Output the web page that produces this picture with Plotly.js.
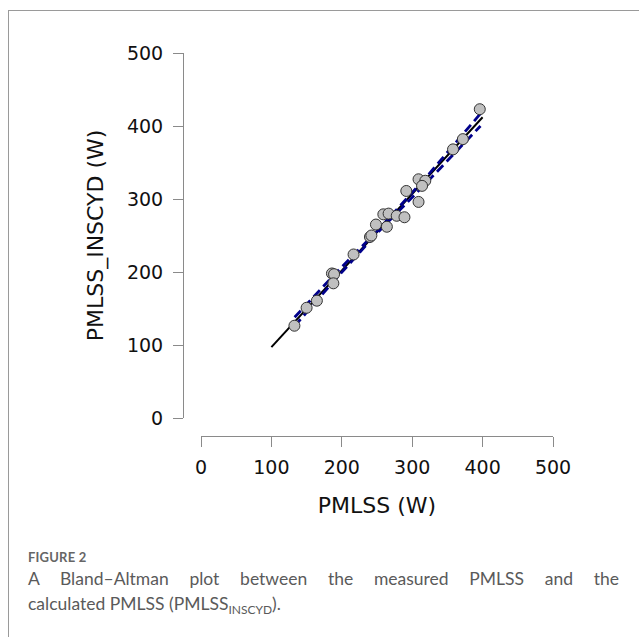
<!DOCTYPE html>
<html>
<head>
<meta charset="utf-8">
<script src="https://cdn.plot.ly/plotly-3.0.1.min.js"></script>
<style>
  html, body { margin: 0; padding: 0; background: #fff; }
  #wrap { position: relative; width: 639px; height: 637px; overflow: hidden; }
  #frame { position: absolute; left: 8px; top: 10px; width: 700px; height: 700px;
           border-left: 1px solid #9a9a9a; border-top: 1px solid #9a9a9a; }
  #chart { position: absolute; left: 0; top: 0; width: 639px; height: 637px; }
  #cap { position: absolute; left: 28px; top: 549px; width: 591px;
         font-family: Lato, "Open Sans", sans-serif; color: #5a5a5a; }
  #cap .fig { font-size: 13px; font-weight: 700; letter-spacing: 0.2px; margin-bottom: 1px; color: #666; }
  #cap .l1 { font-size: 17.5px; line-height: 25px; text-align: justify; text-align-last: justify; white-space: nowrap; }
  #cap .l2 { font-size: 17.5px; line-height: 25px; white-space: nowrap; }
  #cap sub { font-size: 12px; vertical-align: -4px; line-height: 0; }
</style>
</head>
<body>
<div id="wrap">
  <div id="frame"></div>
  <div id="chart"></div>
  <div id="cap">
    <div class="fig">FIGURE 2</div>
    <div class="l1">A Bland–Altman plot between the measured PMLSS and the</div>
    <div class="l2">calculated PMLSS (PMLSS<sub>INSCYD</sub>).</div>
  </div>
</div>
<script>
// Measured PMLSS (x) and calculated PMLSS_INSCYD (y), in W
const pmlss  = [132.7, 150, 164.6, 186, 189, 188, 216.7, 240, 242, 248.5, 264, 259, 266.5, 278, 289, 291.6, 309, 318.6, 314, 309, 396, 372, 358];
const inscyd = [126.4, 151, 160.7, 198, 197, 184.5, 224, 248, 250, 265, 262, 279, 280, 277, 275, 311, 327, 325, 318, 296, 423, 382, 368];

// Regression line (solid black)
const fitX = [100, 400];
const fitY = [97, 412];

// Dashed navy band
const bandX     = [133, 190, 250, 320, 397];
const bandUpper = [138, 197, 256, 330, 417];
const bandLower = [126, 189, 253, 322, 400];

const tickVals = [0, 100, 200, 300, 400, 500];

const font = "DejaVu Sans, sans-serif";

const traces = [
  { x: fitX, y: fitY, mode: 'lines', line: { color: '#000', width: 2 }, hoverinfo: 'skip' },
  { x: bandX, y: bandUpper, mode: 'lines', line: { color: '#00008b', width: 2.8, dash: '9px,5px' }, hoverinfo: 'skip' },
  { x: bandX, y: bandLower, mode: 'lines', line: { color: '#00008b', width: 2.8, dash: '9px,5px' }, hoverinfo: 'skip' },
  { x: pmlss, y: inscyd, mode: 'markers',
    marker: { size: 11, color: '#c0c0c0', line: { color: '#333', width: 1 } } }
];

const axisCommon = {
  range: [0, 500], tickvals: tickVals, ticktext: tickVals.map(String),
  showgrid: false, zeroline: false, showline: true, linecolor: '#8a8a8a', linewidth: 1,
  ticks: 'outside', ticklen: 10, tickcolor: '#8a8a8a', tickwidth: 1,
  tickfont: { family: font, size: 19, color: '#111' },
  anchor: 'free', position: 0
};

const layout = {
  width: 639, height: 637,
  margin: { l: 183, r: 86, t: 53, b: 201, pad: 0 },
  paper_bgcolor: 'rgba(0,0,0,0)', plot_bgcolor: 'rgba(0,0,0,0)',
  showlegend: false,
  xaxis: Object.assign({}, axisCommon, {
    domain: [18 / 370, 1],
    ticklabelstandoff: 4,
    title: { text: 'PMLSS (W)', font: { family: font, size: 22, color: '#111' }, standoff: 20 }
  }),
  yaxis: Object.assign({}, axisCommon, {
    domain: [18 / 383, 1],
    tickangle: 0,
    ticklabelstandoff: 6,
    title: { text: 'PMLSS_INSCYD (W)', font: { family: font, size: 22, color: '#111' }, standoff: 16 }
  })
};

Plotly.newPlot('chart', traces, layout, { displayModeBar: false, staticPlot: true });
</script>
</body>
</html>
